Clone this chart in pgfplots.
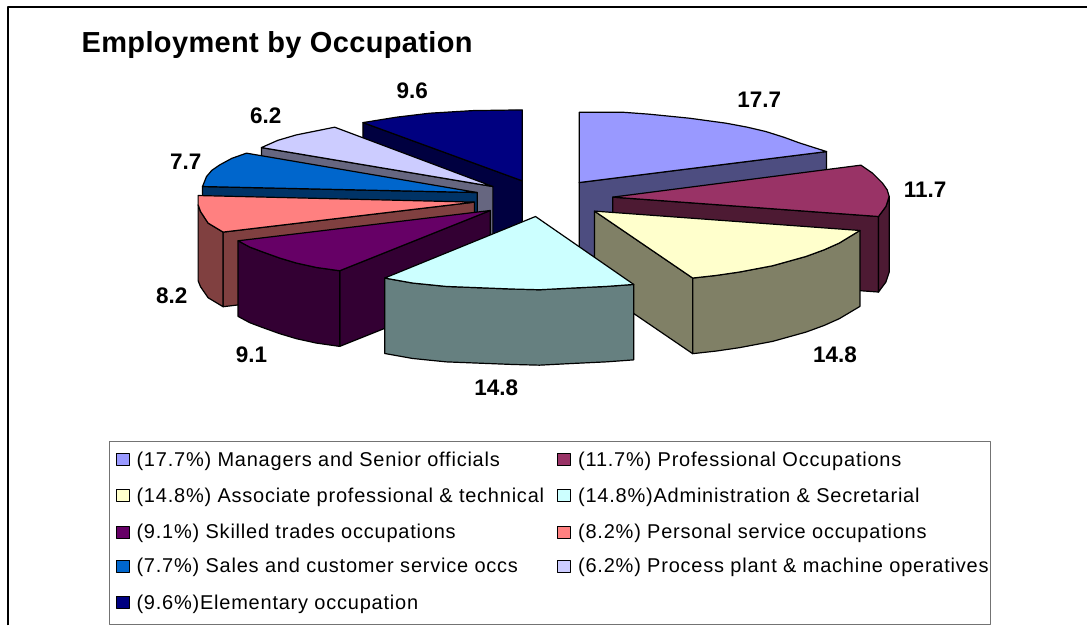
\documentclass[border=0pt]{standalone}
\usepackage{pgfplots}
\pgfplotsset{compat=1.18}
\usepackage{fontspec}
\setmainfont{Liberation Sans}
\definecolor{a1}{HTML}{9999FF}\definecolor{b1}{HTML}{4D4D80}
\definecolor{a2}{HTML}{993366}\definecolor{b2}{HTML}{4D1A33}
\definecolor{a3}{HTML}{FFFFCC}\definecolor{b3}{HTML}{808066}
\definecolor{a4}{HTML}{CCFFFF}\definecolor{b4}{HTML}{668080}
\definecolor{a5}{HTML}{660066}\definecolor{b5}{HTML}{330033}
\definecolor{a6}{HTML}{FF8080}\definecolor{b6}{HTML}{804040}
\definecolor{a7}{HTML}{0066CC}\definecolor{b7}{HTML}{003366}
\definecolor{a8}{HTML}{CCCCFF}\definecolor{b8}{HTML}{666680}
\definecolor{a9}{HTML}{000080}\definecolor{b9}{HTML}{000040}
\newcommand{\lab}[3]{\node[anchor=base,font=\fontsize{22.5}{24}\selectfont\bfseries,inner sep=0pt] at (axis cs:#1,#2) {#3};}
\newcommand{\leg}[3]{\node[anchor=base west,font=\fontsize{20}{22}\selectfont,inner sep=0pt] at (axis cs:#1,#2) {\addfontfeatures{LetterSpace=3.9}#3};}
\begin{document}
\begin{tikzpicture}
\begin{axis}[
  scale only axis, width=1088pt, height=626pt,
  xmin=0, xmax=1088, ymin=0, ymax=626, y dir=reverse,
  axis lines=none, clip=false, no markers,
  every axis plot/.append style={draw=black,line width=1.2pt,line join=round}]
\path (axis cs:0,0) rectangle (axis cs:1088,626);
% frame and legend box
\addplot[draw=black,line width=2pt,fill=none] coordinates {(8,626) (8,7.5) (1088,7.5)};
\addplot[draw=black!55,line width=1.1pt,fill=white] coordinates {(109.5,442) (991,442) (991,625) (109.5,625)} --cycle;
% Managers (17.7)
\addplot[fill=b1] coordinates {(579.7,182.7) (827.3,151.7) (827.3,227) (579.7,258.5)} --cycle;
\addplot[fill=a1] coordinates {(579.7,112.3) (623,112.3) (650,114.3) (690,118.3) (726.7,123.3) (748,127.3) (766.7,131.7) (785,137.5) (800,143) (827.3,151.7) (579.7,182.7)} --cycle;
% Professional (11.7)
\addplot[fill=b2] coordinates {(613.3,197.3) (879.3,216.7) (879.3,292.3) (613.3,273)} --cycle;
\addplot[fill=b2] coordinates {(879.3,216.7) (886.7,206.7) (890,196.7) (890,272.3) (886.7,282.3) (879.3,292.3)} --cycle;
\addplot[fill=a2] coordinates {(613.3,197.3) (861.7,165.3) (873.3,173.3) (883.3,183.3) (888,190) (890,196.7) (886.7,206.7) (879.3,216.7)} --cycle;
% Associate (14.8)
\addplot[fill=b3] coordinates {(595,211.3) (693.3,278.3) (693.3,354) (595,287)} --cycle;
\addplot[fill=b3] coordinates {(693.3,278.3) (716.7,275.7) (740,272.3) (773.3,266) (806.7,256.7) (825,250) (840,243.3) (860.7,230.7) (860.7,306.7) (840,319) (825,325.7) (806.7,332.4) (773.3,341.7) (740,348) (716.7,351.4) (693.3,354)} --cycle;
\addplot[fill=a3] coordinates {(595,211.3) (860.7,230.7) (840,243.3) (825,250) (806.7,256.7) (773.3,266) (740,272.3) (716.7,275.7) (693.3,278.3)} --cycle;
% Elementary (9.6)
\addplot[fill=b9] coordinates {(363.3,122.7) (522.7,181) (522.7,257) (363.3,198)} --cycle;
\addplot[fill=a9] coordinates {(522.7,110) (473.3,110.7) (430,113.3) (396.7,117.3) (363.3,122.7) (522.7,181)} --cycle;
% Process (6.2)
\addplot[fill=b8] coordinates {(261.7,147.7) (493.3,186.7) (493.3,262) (261.7,223)} --cycle;
\addplot[fill=a8] coordinates {(261.7,147.7) (278,140.5) (296.7,135) (335,127.3) (493.3,186.7)} --cycle;
% Sales (7.7)
\addplot[fill=b7] coordinates {(477.7,192.7) (202.7,186.7) (202.7,262) (477.7,268)} --cycle;
\addplot[fill=a7] coordinates {(202.7,186.7) (206.7,176.7) (212,170.5) (220,165) (232,158.5) (246.7,153.3) (477.7,192.7)} --cycle;
% Personal (8.2)
\addplot[fill=b6] coordinates {(475,202.3) (223.3,232.3) (223.3,307) (475,277)} --cycle;
\addplot[fill=b6] coordinates {(198.3,205) (200.7,211.7) (208.3,223.3) (223.3,232.3) (223.3,307) (208.3,298) (200.7,287) (198.3,281)} --cycle;
\addplot[fill=a6] coordinates {(198.3,195.7) (475,202.3) (223.3,232.3) (208.3,223.3) (200.7,211.7) (198.3,205)} --cycle;
% Skilled (9.1)
\addplot[fill=b5] coordinates {(490.7,210.7) (340,271) (340,346.7) (490.7,286.4)} --cycle;
\addplot[fill=b5] coordinates {(238.3,241) (250,247.3) (263.3,252.3) (280,258.3) (296.7,263.3) (316.7,267.7) (340,271) (340,346.7) (316.7,343.4) (296.7,339) (280,334) (263.3,328) (250,323) (238.3,316.7)} --cycle;
\addplot[fill=a5] coordinates {(490.7,210.7) (238.3,241) (250,247.3) (263.3,252.3) (280,258.3) (296.7,263.3) (316.7,267.7) (340,271)} --cycle;
% Administration (14.8)
\addplot[fill=b4] coordinates {(385,278.3) (413,283.3) (446.7,286.7) (513,289.3) (540,290) (573,288.3) (606.7,286.7) (634.3,284.7) (634.3,360.2) (606.7,362.2) (573,363.8) (540,365.5) (513,364.8) (446.7,362.2) (413,358.8) (385,353.8)} --cycle;
\addplot[fill=a4] coordinates {(536,216.7) (634.3,284.7) (606.7,286.7) (573,288.3) (540,290) (513,289.3) (446.7,286.7) (413,283.3) (385,278.3)} --cycle;
% legend keys
\addplot[fill=a1] coordinates {(117,454) (130,454) (130,466) (117,466)} --cycle;
\addplot[fill=a2] coordinates {(558,454) (571,454) (571,466) (558,466)} --cycle;
\addplot[fill=a3] coordinates {(117,490) (130,490) (130,502) (117,502)} --cycle;
\addplot[fill=a4] coordinates {(558,490) (571,490) (571,502) (558,502)} --cycle;
\addplot[fill=a5] coordinates {(117,527) (130,527) (130,539) (117,539)} --cycle;
\addplot[fill=a6] coordinates {(558,527) (571,527) (571,539) (558,539)} --cycle;
\addplot[fill=a7] coordinates {(117,561) (130,561) (130,573) (117,573)} --cycle;
\addplot[fill=a8] coordinates {(558,561) (571,561) (571,573) (558,573)} --cycle;
\addplot[fill=a9] coordinates {(117,597) (130,597) (130,609) (117,609)} --cycle;
% texts
\node[anchor=base west,font=\fontsize{29}{32}\selectfont\bfseries,inner sep=0pt] at (axis cs:81.5,52.7) {\addfontfeatures{LetterSpace=1.3}Employment by Occupation};
\lab{760}{107.3}{17.7}
\lab{926}{198}{11.7}
\lab{835.7}{362.7}{14.8}
\lab{496.7}{396}{14.8}
\lab{251.7}{363.3}{9.1}
\lab{172}{304}{8.2}
\lab{186}{170}{7.7}
\lab{266}{123.3}{6.2}
\lab{412.7}{99}{9.6}
\leg{136.5}{466.7}{(17.7\%) Managers and Senior officials}
\leg{136.5}{502.7}{(14.8\%) Associate professional \& technical}
\leg{136.5}{539.3}{(9.1\%) Skilled trades occupations}
\leg{136.5}{573.3}{(7.7\%) Sales and customer service occs}
\leg{136.5}{610.3}{(9.6\%)Elementary occupation}
\leg{578.5}{466.7}{(11.7\%) Professional Occupations}
\leg{578.5}{502.7}{(14.8\%)Administration \& Secretarial}
\leg{578.5}{539.3}{(8.2\%) Personal service occupations}
\leg{578.5}{573.3}{(6.2\%) Process plant \& machine operatives}
\end{axis}
\end{tikzpicture}
\end{document}
